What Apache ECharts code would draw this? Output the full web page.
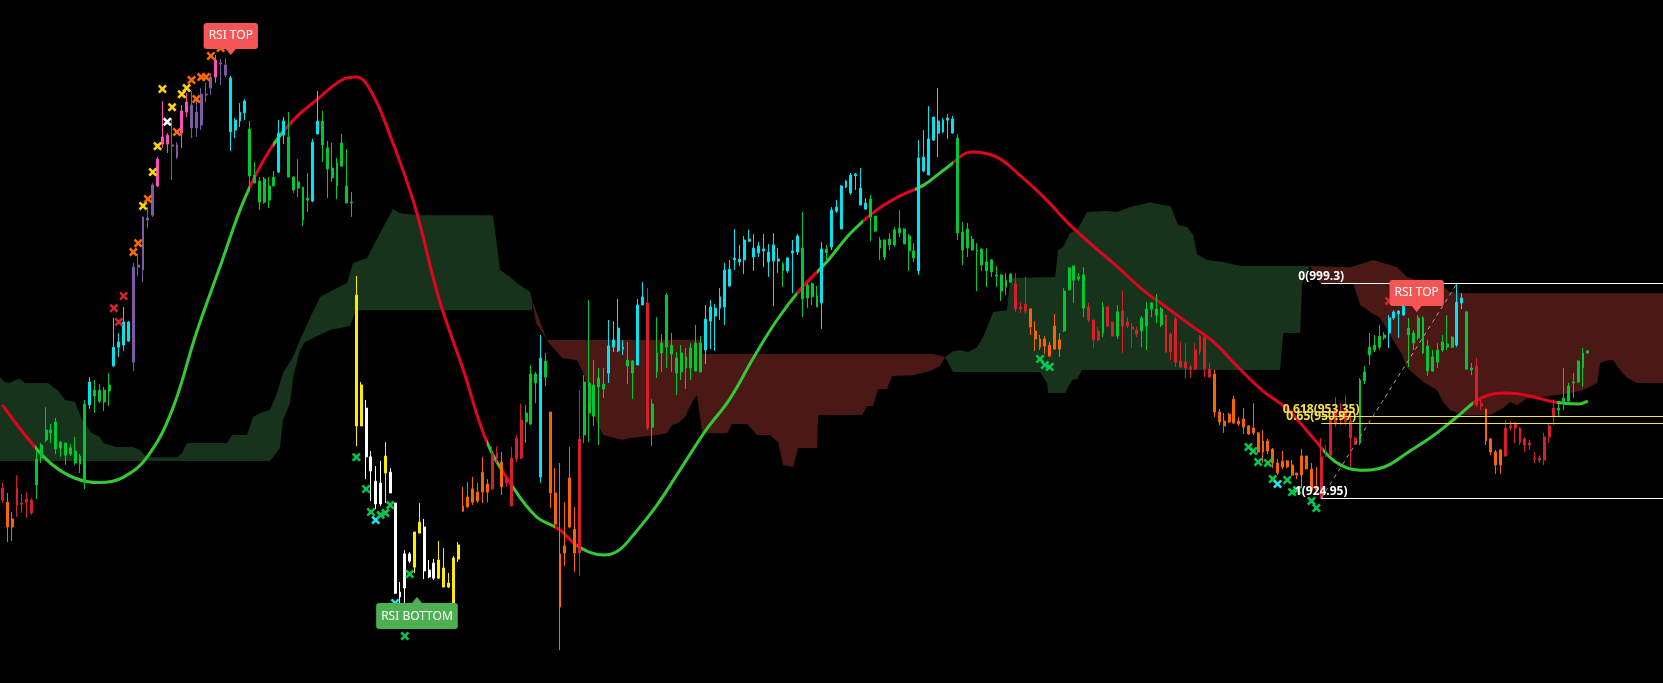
<!DOCTYPE html>
<html>
<head>
<meta charset="utf-8">
<script src="https://cdn.jsdelivr.net/npm/echarts/dist/echarts.min.js"></script>
<style>
html,body{margin:0;padding:0;background:#000;}
#chart{width:1663px;height:683px;}
</style>
</head>
<body>
<div id="chart"></div>
<script>
// ---------- DATA ----------
// candles: [open, close, low, high]
const ohlc = [
[928.5,924.3,923.3,930.3],[923.6,915.0,909.8,926.8],[917.8,915.0,910.2,920.2],[928.5,922.6,918.5,933.0],[923.3,922.9,919.9,926.4],
[924.7,923.6,918.2,927.1],[924.3,919.9,919.2,925.0],[929.6,938.6,924.7,941.7],[938.9,943.4,937.2,944.1],[945.1,948.6,944.4,956.5],
[947.6,948.6,944.1,950.7],[942.0,951.4,940.3,952.8],[942.4,944.4,939.3,944.8],[939.9,944.1,936.5,944.1],[940.3,942.4,939.6,943.7],
[937.2,941.3,936.5,946.2],[936.8,939.6,933.7,940.3],[930.3,957.6,928.2,959.0],[957.3,965.2,955.9,966.9],[960.4,962.4,954.5,965.9],
[958.6,962.4,957.9,964.5],[958.3,962.4,955.2,963.5],[962.1,964.2,956.9,968.3],[970.8,977.3,970.4,987.4],[977.3,979.1,973.9,982.2],
[978.0,986.0,976.0,991.2],[979.4,986.0,979.1,986.3],[972.1,1005.0,969.0,1006.4],[1005.0,1005.7,1001.9,1009.5],[1004.0,1022.4,999.8,1022.4],
[1021.3,1022.0,1018.5,1025.8],[1023.0,1033.4,1022.4,1034.1],[1033.1,1042.4,1032.7,1043.1],[1047.6,1050.1,1046.3,1062.5],[1047.6,1050.7,1044.5,1051.4],
[1046.9,1047.3,1035.2,1056.6],[1043.1,1047.3,1042.4,1048.3],[1051.4,1059.1,1046.3,1061.1],[1058.7,1062.2,1057.0,1065.3],[1053.2,1061.1,1049.7,1066.0],
[1053.2,1058.7,1050.1,1063.9],[1054.2,1064.9,1052.5,1067.0],[1064.6,1064.9,1062.2,1068.8],[1067.0,1070.8,1064.6,1072.2],[1070.8,1076.7,1068.8,1078.5],
[1075.3,1075.7,1068.1,1077.1],[1071.5,1075.0,1070.8,1077.4],[1070.5,1051.8,1045.2,1071.2],[1052.5,1055.9,1049.7,1056.6],[1055.6,1058.7,1053.5,1061.8],
[1058.4,1062.5,1055.9,1063.2],[1052.8,1036.6,1032.7,1055.6],[1036.9,1034.1,1034.1,1041.4],[1034.8,1027.5,1024.8,1036.2],[1027.5,1035.5,1026.9,1036.2],
[1033.1,1028.2,1025.5,1036.2],[1033.1,1036.2,1033.1,1038.3],[1037.9,1051.4,1037.6,1055.9],[1050.7,1055.6,1047.6,1057.0],[1050.1,1036.2,1036.2,1058.7],
[1036.2,1031.7,1030.7,1036.6],[1032.4,1034.5,1029.3,1042.4],[1032.7,1021.3,1019.2,1032.7],[1028.2,1028.9,1024.1,1037.6],[1027.9,1048.3,1027.5,1049.4],
[1051.1,1055.6,1051.1,1066.0],[1055.6,1047.3,1041.4,1059.1],[1046.3,1039.0,1028.9,1048.7],[1039.3,1035.9,1034.5,1048.0],[1033.1,1041.1,1028.6,1042.8],
[1040.0,1048.0,1039.7,1051.1],[1033.1,1027.2,1027.2,1045.9],[1027.5,1027.2,1022.4,1031.0],[995.3,950.0,943.0,1001.9],[964.2,950.0,950.0,965.2],
[956.2,939.3,931.6,959.0],[939.3,934.4,924.0,941.3],[930.9,923.0,921.2,936.1],[923.0,930.2,922.3,937.9],[939.6,933.7,923.3,944.4],
[926.8,934.0,926.8,935.4],[923.3,892.1,891.8,923.3],[890.8,892.5,887.6,896.0],[893.9,905.7,881.8,907.0],[903.2,905.7,902.5,906.3],
[901.1,913.3,899.1,913.3],[912.9,916.7,912.9,923.3],[915.0,899.8,897.0,917.8],[897.7,900.1,897.3,903.6],[902.5,897.3,896.6,903.9],
[897.3,903.6,897.0,910.2],[900.8,894.2,894.2,907.7],[894.2,895.6,893.9,899.1],[888.7,904.3,884.5,905.0],[903.9,908.8,902.9,909.8],
[922.3,920.5,920.2,928.9],[925.4,921.9,921.9,930.6],[928.2,923.6,922.6,932.3],[927.1,924.0,923.3,930.3],[934.0,927.1,923.3,939.3],
[929.9,927.1,923.6,931.6],[940.6,928.2,927.8,943.0],[940.6,938.6,937.2,943.0],[937.5,928.9,926.1,941.0],[932.0,930.3,928.9,932.3],
[938.9,922.3,922.3,942.7],[945.8,938.6,937.5,946.9],[952.1,938.9,938.6,957.6],[951.4,954.5,944.1,957.3],[950.7,968.0,950.3,971.1],
[964.9,968.0,957.9,968.7],[932.3,973.5,930.3,981.5],[966.9,972.5,963.8,975.3],[954.8,926.8,921.6,954.8],[926.8,916.0,915.0,935.4],
[905.7,887.3,872.4,937.2],[908.4,906.0,901.5,923.6],[932.0,915.0,914.7,942.7],[914.3,906.0,899.4,921.9],[945.5,906.0,898.0,962.4],
[946.9,965.2,944.1,967.6],[954.5,964.9,944.4,993.6],[953.4,964.2,950.0,972.8],[963.5,966.6,943.4,970.1],[962.8,964.5,959.7,970.1],
[968.3,977.7,964.9,986.7],[977.3,979.8,975.6,986.3],[976.0,983.9,975.6,994.0],[976.6,977.3,974.6,979.8],[970.8,972.8,964.5,979.1],
[968.3,972.5,959.3,972.8],[971.1,991.9,971.1,994.0],[991.9,994.7,991.9,999.8],[992.6,949.3,948.6,997.8],[949.6,957.6,943.0,959.3],
[968.7,975.3,966.6,987.7],[975.3,978.7,968.7,981.8],[977.3,995.3,970.1,996.0],[978.0,974.9,968.7,982.2],[973.5,968.3,960.7,975.6],
[968.7,975.3,965.9,978.0],[973.9,970.1,962.8,977.0],[970.1,977.0,965.9,978.7],[969.0,978.7,969.0,985.0],[978.7,968.7,968.7,981.1],
[976.3,987.0,971.4,991.9],[986.3,991.2,976.6,993.6],[988.1,990.8,976.0,992.2],[990.8,994.7,986.7,997.8],[991.2,1004.0,985.0,1006.4],
[998.5,1004.3,998.1,1007.5],[1007.5,1008.2,1004.0,1018.2],[1006.8,1007.8,1005.4,1012.7],[1007.5,1014.4,1002.6,1015.8],[1014.0,1014.7,1013.7,1017.9],
[1011.6,1008.5,1003.7,1016.5],[1009.9,1012.3,1008.5,1013.7],[1010.6,1011.3,1005.0,1016.5],[1010.2,1006.8,1001.6,1013.0],[1007.1,1012.7,991.5,1016.8],
[1007.8,1007.1,1003.0,1011.6],[1006.1,1003.7,998.1,1006.8],[1003.7,1008.2,1003.0,1008.5],[1010.6,1009.9,996.0,1014.4],[1010.2,1015.8,1009.2,1016.5],
[1011.6,994.0,987.7,1024.1],[994.3,998.8,990.8,999.5],[994.7,999.2,991.9,999.8],[995.0,991.2,991.2,998.5],[992.6,1011.3,983.6,1013.7],
[1009.9,1011.3,1006.8,1012.7],[1012.0,1024.8,1010.9,1025.8],[1024.4,1025.8,1023.7,1028.2],[1018.2,1033.1,1018.2,1033.4],[1032.7,1034.8,1032.4,1035.2],
[1030.7,1036.9,1030.0,1037.6],[1036.6,1037.2,1031.7,1037.6],[1032.4,1026.5,1026.5,1039.3],[1027.2,1025.1,1024.8,1028.9],[1028.6,1022.4,1014.0,1030.0],
[1022.7,1017.5,1017.2,1022.7],[1014.4,1011.6,1007.5,1015.4],[1014.4,1008.5,1007.5,1014.7],[1012.7,1014.7,1010.9,1016.8],[1012.7,1017.9,1012.0,1018.9],
[1016.8,1018.5,1015.4,1024.8],[1018.2,1013.0,1013.0,1018.5],[1015.8,1010.6,1003.7,1016.5],[1010.6,1008.2,1006.8,1013.3],[1003.7,1042.8,1002.3,1049.0],
[1038.3,1043.1,1037.9,1052.5],[1036.9,1049.4,1036.9,1060.8],[1049.0,1057.0,1048.7,1057.0],[1051.4,1055.6,1043.1,1067.0],[1051.8,1055.9,1051.4,1056.6],
[1055.9,1056.6,1049.4,1058.0],[1056.3,1051.4,1051.4,1057.3],[1049.7,1016.8,1014.4,1051.1],[1017.2,1010.9,1005.7,1020.6],[1011.6,1018.2,1008.5,1020.3],
[1014.7,1010.9,1010.9,1015.8],[1010.9,1010.6,996.7,1013.3],[1011.3,1005.7,1003.7,1011.3],[1006.8,1003.7,998.1,1011.6],[1007.5,1003.3,1001.6,1007.8],
[1002.3,1001.9,998.1,1005.4],[1002.3,996.7,993.3,1002.6],[1000.5,998.1,995.3,1002.9],[999.8,1002.6,999.5,1002.9],[999.2,990.5,989.5,1002.9],
[991.2,990.5,989.1,992.9],[992.2,989.8,988.8,1001.6],[990.5,984.3,981.5,990.8],[982.9,980.1,976.0,986.3],[980.1,977.3,976.3,981.5],
[980.1,977.7,974.9,981.1],[978.0,974.2,973.9,979.1],[984.6,976.6,976.3,988.8],[979.8,976.6,973.9,982.2],[982.9,996.7,982.5,997.8],
[997.1,1004.7,997.1,1005.0],[1000.5,1005.4,992.6,1005.4],[1000.9,1001.6,1000.2,1002.9],[1002.3,990.8,987.7,1005.0],[991.2,986.7,986.0,992.6],
[986.7,979.8,977.0,986.7],[982.9,979.8,979.4,984.3],[982.2,991.2,980.8,992.9],[991.2,984.6,984.3,991.5],[986.0,981.1,981.1,986.0],
[981.1,989.5,980.1,991.9],[989.8,984.6,975.3,996.7],[986.0,984.6,983.9,987.7],[984.3,983.6,977.0,985.6],[983.2,981.8,980.8,984.3],
[982.9,987.4,977.3,988.1],[984.6,990.5,976.3,992.9],[990.5,992.6,987.7,992.9],[988.4,990.5,985.6,995.7],[985.0,990.5,984.3,991.2],
[988.4,975.6,975.3,988.4],[981.8,975.6,972.8,982.5],[987.0,972.1,970.4,987.7],[972.5,970.4,970.1,979.1],[972.1,970.1,966.3,978.7],
[970.4,969.7,966.6,971.1],[976.3,969.7,969.4,978.7],[981.1,975.9,974.6,981.5],[980.5,969.7,966.9,981.1],[969.7,966.9,966.9,971.8],
[968.0,954.8,953.1,969.4],[954.8,951.4,950.3,955.9],[951.7,950.0,947.6,954.5],[954.1,951.4,951.0,954.5],[959.3,951.0,950.7,960.4],
[951.7,950.7,950.0,953.1],[952.4,949.6,947.2,956.2],[950.0,947.2,946.9,950.3],[949.3,947.6,946.9,957.9],[947.6,941.0,940.6,947.9],
[944.8,941.0,937.2,948.6],[944.8,941.3,940.3,945.5],[942.0,937.2,935.4,942.4],[937.2,933.7,933.0,938.6],[937.9,935.8,935.1,941.3],
[937.9,935.8,935.4,938.2],[936.5,933.0,932.7,938.2],[933.7,933.0,931.6,933.7],[939.6,933.0,928.5,942.0],[939.6,935.1,935.1,939.6],
[935.1,927.8,927.8,937.2],[928.9,927.8,926.8,935.8],[939.3,925.0,924.95,945.8],[939.9,939.6,939.3,943.4],[952.8,939.9,939.6,953.1],
[955.9,950.7,949.6,960.0],[955.2,952.8,950.3,957.9],[955.9,951.4,950.3,960.4],[951.7,945.8,935.8,955.5],[945.8,943.7,943.4,946.2],
[944.1,965.9,943.4,966.6],[965.6,968.7,964.5,970.8],[974.6,977.3,971.1,982.2],[976.3,978.0,975.6,981.5],[977.3,981.1,976.3,985.0],
[980.5,981.5,979.8,982.5],[982.2,987.4,977.0,988.4],[987.4,989.5,986.7,990.1],[988.8,989.8,980.5,990.1],[988.4,991.9,988.1,992.6],
[981.5,983.9,970.4,987.4],[978.7,982.2,976.3,983.2],[980.5,987.4,979.8,988.4],[975.3,987.4,974.9,988.1],[969.0,977.7,967.3,979.8],
[969.0,973.9,968.7,976.3],[972.1,976.3,970.1,978.7],[976.3,979.1,975.6,981.5],[977.3,978.4,976.3,988.4],[977.3,980.8,977.0,981.1],
[978.0,992.9,977.3,999.3],[992.6,994.3,990.5,996.0],[969.7,989.5,969.4,989.8],[969.4,970.1,967.6,971.8],[970.8,957.3,956.5,973.5],
[957.9,956.9,955.5,959.3],[955.9,944.8,943.4,955.9],[945.5,941.0,939.9,945.8],[941.0,936.5,933.4,941.7],[941.7,936.5,933.4,942.0],
[949.3,939.6,939.3,952.1],[950.0,949.3,948.6,951.7],[951.0,949.3,944.1,951.4],[949.3,944.4,943.4,949.6],[945.5,943.4,941.0,946.2],
[944.1,943.4,941.7,945.1],[938.9,938.6,937.2,941.0],[938.9,938.2,937.2,939.9],[946.2,938.2,936.5,947.6],[950.0,946.2,944.1,950.7],
[956.2,953.1,950.3,959.3],[955.5,956.2,953.4,957.6],[957.9,959.7,955.5,970.1],[958.6,963.8,958.3,964.9],[964.9,965.2,959.7,968.3],
[965.2,972.5,964.9,972.8],[970.1,975.3,963.5,977.0],[975.3,976.0,974.9,976.3]
];

// indicator colour state of each candle, as runs [state, count]
// c=strong up, g=up, r=down, o=strong down, p=overbought, k=extreme overbought, y=oversold, w=extreme oversold
const candleStateRuns = [
['r',1],['o',2],['r',4],['g',11],['c',1],['g',4],['c',4],['p',5],['k',3],['p',2],['k',2],['p',5],['k',1],['p',2],['c',4],['g',6],['c',2],['g',5],['c',2],['g',7],
['y',2],['w',4],['y',1],['w',5],['y',2],['w',3],['y',5],
['o',6],['r',2],['o',1],['r',4],['g',3],['c',1],['g',1],['o',6],['r',1],['g',5],['c',4],['g',2],['c',2],['r',1],['g',11],
['c',16],['g',1],['c',3],['g',4],['c',1],['g',1],['c',8],['g',10],['c',8],['g',12],
['r',3],['o',7],['g',5],['r',3],['g',1],['r',2],['g',1],['r',4],['g',5],['r',10],
['o',22],['r',8],['g',6],['c',4],['g',10],['c',2],['g',2],['r',2],['o',4],['r',11],['g',7]
];

// smoothed trend line [index, value]
const trendLine = [
[0,957.3],[5,946.2],[10,937.0],[15,931.9],[20,930.4],[25,932.3],[30,939.6],[35,955.5],[40,982.2],[45,1005.7],
[50,1028.9],[55,1045.2],[60,1055.9],[65,1063.2],[70,1069.8],[73,1070.8],[76,1066.0],[80,1050.4],[85,1026.5],[90,994.3],
[95,969.7],[100,944.1],[105,929.6],[110,918.8],[115,914.0],[118,909.2],[121,906.3],[124,905.3],[127,906.8],[130,912.0],[135,922.6],[140,935.4],
[145,948.3],[150,959.3],[155,973.9],[160,987.3],[165,998.1],[170,1006.8],[175,1016.9],[180,1024.4],[185,1029.6],[190,1033.4],
[195,1039.7],[200,1044.9],[205,1043.2],[210,1036.6],[215,1028.9],[220,1019.9],[225,1012.3],[230,1005.1],[235,997.4],[240,991.2],
[245,985.0],[250,978.8],[255,970.1],[260,962.1],[265,955.9],[270,946.5],[275,937.5],[280,934.7],[285,935.8],[290,941.0],
[295,946.5],[300,953.1],[305,959.7],[310,961.4],[315,960.4],[320,958.3],[325,957.6],[327,958.6]
];
// trend line state changes (index where a state starts) and state (1 = price above line)
const trendStart = [-0.5, 6.7, 51.1, 55.8, 57.9, 100, 103.1, 104.7, 114, 118.5, 163.8, 168, 177.6, 188.2, 196.1, 272.4, 303.3, 320.6];
const trendUp    = [0,    1,   0,    1,    0,    1,   0,     1,     0,   1,     0,     1,   0,     1,     0,     1,     0,     1];

// Ichimoku cloud boundaries [index, value]
const cloudBull1Upper = [[-0.5,966.9],[0.53,965.2],[1.56,964.9],[2.59,965.9],[3.63,966.3],[4.66,964.9],[9.4,964.9],[10.43,963.5],[11.46,962.4],[12.9,959.0],[14.97,958.3],[16.41,952.1],[18.48,947.5],[20.13,946.2],[20.75,944.1],[23.63,942.7],[26.93,942.7],[28.38,941.7],[29.82,939.2],[36.01,939.2],[37.04,940.6],[38.07,944.1],[46.32,944.1],[47.36,946.9],[50.45,946.9],[51.69,953.1],[53.13,954.5],[55.19,955.5],[56.64,961.4],[57.87,968.3],[59.94,973.9],[61.38,979.8],[63.44,987.4],[65.51,994.7],[68.19,997.1],[71.08,999.5],[72.31,1006.4],[75.2,1008.2],[77.88,1016.8],[79.33,1021.3],[80.56,1025.1],[82.01,1023.7],[86.14,1023.0],[101.19,1023.0],[102.64,1004.0],[104.7,1001.6],[106.14,999.5],[108.82,996.4],[109.24,993.6]];
const cloudBull1Lower = [[-0.5,937.9],[55.19,937.9],[57.26,942.4],[57.87,952.1],[59.32,957.9],[59.94,966.6],[61.38,976.3],[62.41,979.1],[67.57,983.2],[71.7,984.6],[72.73,989.5],[73.76,990.1],[109.24,990.1]];
const cloudBear1Upper = [[109.24,993.6],[112.33,979.8],[143.89,979.8],[144.3,974.9],[191.95,974.9],[194.43,973.9]];
const cloudBear1Lower = [[109.24,993.6],[110.06,985.6],[111.3,982.5],[112.54,979.1],[115.43,973.5],[118.52,972.8],[119.76,968.7],[120.79,963.1],[121.82,954.5],[122.85,950.3],[123.88,946.9],[128.01,945.1],[129.45,945.8],[135.02,946.9],[137.08,947.5],[138.11,950.3],[139.35,951.0],[140.8,953.1],[142.45,959.0],[143.27,960.7],[144.3,947.9],[145.34,947.5],[149.46,947.5],[150.49,950.7],[153.59,950.7],[155.65,946.9],[158.33,946.9],[159.98,944.4],[161.01,936.5],[163.08,935.8],[164.11,942.4],[168.03,942.4],[168.23,953.8],[177.31,953.8],[178.34,956.9],[179.58,956.9],[180.61,962.8],[182.47,962.8],[183.5,967.3],[187.83,967.6],[191.33,969.0],[193.39,970.8],[194.43,973.9]];
const cloudBull2Upper = [[194.43,973.9],[196.08,975.9],[197.52,976.3],[199.17,975.6],[201.03,977.3],[202.27,980.8],[203.71,986.7],[204.33,989.5],[207.22,990.1],[207.84,1001.2],[217.12,1001.6],[217.74,1010.9],[218.77,1012.0],[220.21,1016.8],[221.66,1017.9],[223.72,1024.1],[227.85,1024.4],[229.9,1024.1],[232.59,1025.8],[234.65,1026.5],[236.71,1027.5],[238.16,1026.9],[240.84,1026.2],[241.46,1024.1],[242.49,1019.6],[244.35,1018.9],[245.59,1016.1],[246.41,1009.5],[248.47,1007.5],[251.77,1006.8],[255.28,1005.4],[269.72,1005.4]];
const cloudBull2Lower = [[194.43,973.9],[196.08,968.7],[214.02,968.7],[215.47,964.9],[215.67,961.4],[219.18,961.4],[219.8,963.5],[220.63,965.9],[221.66,966.3],[222.69,969.4],[263.53,969.4],[264.15,982.2],[267.66,982.2],[268.07,999.5],[269.72,1005.4]];
const cloudBear2Upper = [[269.72,1005.4],[277.97,1005.0],[282.71,1007.5],[284.78,1006.4],[287.66,1005.0],[289.73,1001.6],[293.03,999.8],[295.92,999.8],[298.6,996.4],[301.28,996.0],[342.5,996.0]];
const cloudBear2Lower = [[269.72,1005.4],[271.78,999.5],[278.6,999.5],[280.03,991.9],[282.1,989.5],[284.16,987.4],[286.84,979.8],[288.7,974.6],[289.73,970.1],[293.03,965.2],[295.92,962.4],[297.15,958.3],[298.6,955.5],[301.28,953.8],[306.85,953.8],[309.53,956.2],[310.98,958.3],[312.42,957.2],[314.48,959.7],[317.16,960.0],[320.67,960.7],[323.35,961.4],[326.03,962.4],[328.92,964.9],[329.54,971.8],[330.98,972.8],[332.22,972.8],[333.66,969.4],[335.11,966.6],[337.17,964.9],[342.5,964.9]];

// signal crosses [index, value, state]
const overboughtMarks = [
[23,990.8,'r'],[24,986.0,'r'],[25,995.0,'r'],[27,1010.2,'o'],[28,1013.3,'o'],[29,1026.2,'y'],[30,1028.6,'o'],[31,1037.9,'y'],
[32,1046.9,'y'],[33,1066.7,'y'],[34,1055.3,'w'],[35,1060.4,'y'],[36,1051.8,'o'],[37,1064.9,'y'],[38,1067.0,'y'],[39,1069.8,'o'],
[40,1063.2,'o'],[41,1070.8,'o'],[42,1070.8,'o'],[43,1078.1,'o'],[45,1080.9,'o'],[286,993.3,'r']
];
const oversoldMarks = [
[73,939.2,'g'],[75,928.2,'g'],[76,920.2,'g'],[77,917.4,'c'],[78,919.2,'g'],[79,919.9,'g'],[80,922.6,'g'],[81,888.7,'c'],
[83,877.3,'g'],[84,898.7,'g'],[214,973.2,'g'],[215,971.1,'g'],[216,970.4,'g'],[257,942.7,'g'],[258,941.3,'g'],[259,937.5,'g'],
[261,937.2,'g'],[262,931.6,'g'],[263,929.9,'c'],[265,931.3,'g'],[266,927.1,'g'],[267,927.8,'g'],[270,924.0,'g'],[271,921.6,'g']
];
// RSI extremes [index, value, kind]
const rsiSignals = [[47.1,1079.5,'top'],[85.5,889.7,'bottom'],[291.7,990.5,'top']];
// Fibonacci retracement between swing low and swing high candles
const fibAnchor = [272, 300];
const fibRatios = [0, 0.618, 0.65, 1];

// ---------- STYLE ----------
const SLOTS = 343;
const candleColor = {c:'#00e4ef', g:'#00c832', r:'#d61f2a', o:'#f86400', p:'#7b5aa6', k:'#ff4dba', y:'#ffec00', w:'#ffffff'};
const markColor = {r:'#d3262c', o:'#ff6a00', y:'#ffd500', w:'#ffffff', g:'#00c850', c:'#22e3ee'};
const CLOUD_BULL = '#18331b', CLOUD_BEAR = '#4a1815';
const LINE_UP = '#33c933', LINE_DN = '#e0041f';

const states = [];
candleStateRuns.forEach(([s, n]) => { for (let k = 0; k < n; k++) states.push(s); });

const candleData = ohlc.map((v, i) => {
  const col = candleColor[states[i]] || '#888';
  const o = v[0], c = v[1];
  const l = Math.min(v[2], o, c), h = Math.max(v[3], o, c);
  return { value: [o, c, l, h], itemStyle: { color: col, color0: col, borderColor: col, borderColor0: col } };
});

const cloudRuns = [
  { bull: true, upper: cloudBull1Upper, lower: cloudBull1Lower },
  { bull: false, upper: cloudBear1Upper, lower: cloudBear1Lower },
  { bull: true, upper: cloudBull2Upper, lower: cloudBull2Lower },
  { bull: false, upper: cloudBear2Upper, lower: cloudBear2Lower }
];

const pieces = trendStart.map((s, k) => ({
  gte: s, lt: k + 1 < trendStart.length ? trendStart[k + 1] : SLOTS,
  color: trendUp[k] ? LINE_UP : LINE_DN
}));

// fib levels from data
let swingLow = Infinity, swingHigh = -Infinity;
for (let i = fibAnchor[0]; i <= fibAnchor[1]; i++) {
  swingLow = Math.min(swingLow, ohlc[i][2]);
  swingHigh = Math.max(swingHigh, ohlc[i][3]);
}
const fibLevels = fibRatios.map(r => ({ r, v: swingHigh - r * (swingHigh - swingLow) }));
const fibColor = r => (r === 0 || r === 1) ? '#ffffff' : '#f3e24a';

const xPath = 'path://M2,0L5,3L8,0L10,2L7,5L10,8L8,10L5,7L2,10L0,8L3,5L0,2Z';
const markSeriesData = overboughtMarks.concat(oversoldMarks).map(([i, v, s]) => ({
  value: [i, v], itemStyle: { color: markColor[s], opacity: 1 }
}));

const rsiData = rsiSignals.map(([i, v, kind]) => {
  const top = kind === 'top';
  const bg = top ? '#f55555' : '#4caf50';
  return {
    value: [i, v],
    symbolRotate: top ? 180 : 0,
    itemStyle: { color: bg, opacity: 1 },
    label: {
      show: true, position: top ? 'top' : 'bottom', distance: 0,
      formatter: top ? 'RSI TOP' : 'RSI BOTTOM',
      color: '#ffffff', fontSize: 12, fontFamily: 'Noto Sans', lineHeight: 14,
      backgroundColor: bg, borderRadius: 3, padding: [6, 5, 6, 5]
    }
  };
});

const chart = echarts.init(document.getElementById('chart'), null, { renderer: 'canvas' });
chart.setOption({
  animation: false,
  backgroundColor: '#000000',
  grid: { left: 0, right: 0, top: 0, bottom: 0 },
  xAxis: [
    { type: 'category', data: Array.from({ length: SLOTS }, (_, i) => String(i)), show: false, boundaryGap: true },
    { type: 'value', min: -0.5, max: SLOTS - 0.5, show: false }
  ],
  yAxis: { type: 'value', min: 861, max: 1097.5, show: false, splitLine: { show: false } },
  visualMap: {
    type: 'piecewise', show: false, dimension: 0, seriesIndex: 2, pieces: pieces,
    outOfRange: { color: LINE_UP }
  },
  series: [
    {
      type: 'custom', name: 'cloud', xAxisIndex: 1, yAxisIndex: 0, z: 1, silent: true,
      data: cloudRuns.map((r, k) => [k]),
      encode: { x: -1, y: -1 },
      renderItem: function (params, api) {
        const run = cloudRuns[params.dataIndex];
        const pts = run.upper.map(p => api.coord(p))
          .concat(run.lower.slice().reverse().map(p => api.coord(p)));
        return { type: 'polygon', shape: { points: pts }, style: { fill: run.bull ? CLOUD_BULL : CLOUD_BEAR, stroke: null } };
      }
    },
    {
      type: 'candlestick', name: 'price', xAxisIndex: 0, yAxisIndex: 0, z: 3,
      barWidth: 2.4,
      itemStyle: { borderWidth: 1 },
      data: candleData
    },
    {
      type: 'line', name: 'trend', xAxisIndex: 1, yAxisIndex: 0, z: 2,
      data: trendLine, smooth: 0.4, showSymbol: false, symbol: 'none',
      lineStyle: { width: 3 }
    },
    {
      type: 'scatter', name: 'crosses', xAxisIndex: 1, yAxisIndex: 0, z: 4,
      symbol: xPath, symbolSize: 9, itemStyle: { opacity: 1 }, data: markSeriesData
    },
    {
      type: 'line', name: 'fib', xAxisIndex: 1, yAxisIndex: 0, z: 5,
      data: [[fibAnchor[0], swingLow], [fibAnchor[1], swingHigh]],
      showSymbol: false, symbol: 'none',
      lineStyle: { color: '#a0a0a0', width: 1, type: [4, 4] },
      markLine: {
        silent: true, symbol: ['none', 'none'], label: { show: false },
        data: fibLevels.map(f => [
          { coord: [fibAnchor[0], f.v], lineStyle: { color: fibColor(f.r), width: 1, type: 'solid' } },
          { coord: [SLOTS - 0.5, f.v] }
        ])
      },
      markPoint: {
        silent: true, symbol: 'circle', symbolSize: 0,
        data: fibLevels.map(f => ({
          coord: [fibAnchor[0], f.v],
          label: {
            show: true, position: 'top', distance: 1,
            formatter: f.r + '(' + parseFloat(f.v.toFixed(2)) + ')',
            color: fibColor(f.r), fontSize: 12, fontWeight: 'bold', fontFamily: 'Noto Sans'
          }
        }))
      }
    },
    {
      type: 'scatter', name: 'rsi', xAxisIndex: 1, yAxisIndex: 0, z: 10,
      symbol: 'triangle', symbolSize: [10, 6], itemStyle: { opacity: 1 }, data: rsiData
    }
  ]
});
</script>
</body>
</html>
